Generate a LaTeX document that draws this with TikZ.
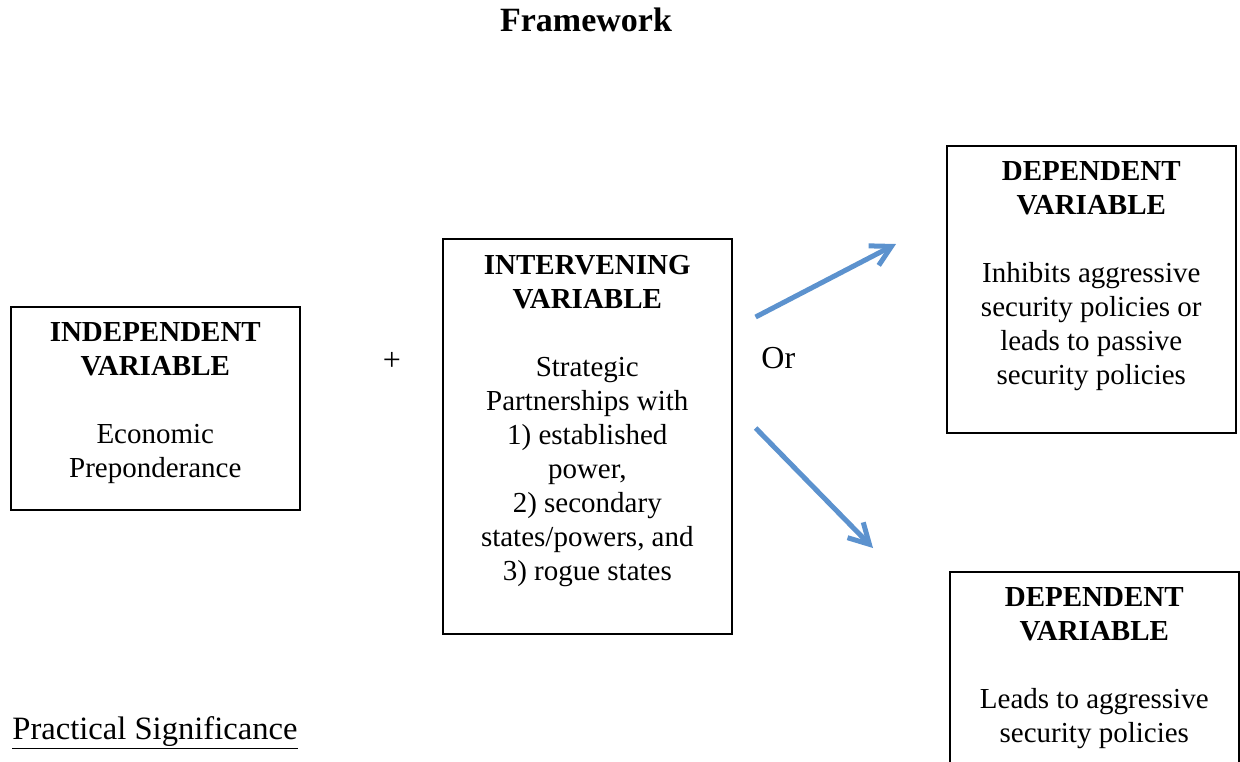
\documentclass[tikz,border=0pt]{standalone}
\usepackage{fontspec}
\setmainfont{Liberation Serif}
\usepackage{tikz}
\usetikzlibrary{arrows.meta}
\definecolor{arrowblue}{RGB}{92,146,206}
\tikzset{
  varbox/.style={rectangle, draw=black, line width=0.8pt, anchor=north west,
    inner xsep=0pt, inner ysep=8pt, minimum width=144.5pt,
    font=\fontsize{14.5}{17}\selectfont},
  plaintext/.style={inner sep=0pt, font=\fontsize{16}{19}\selectfont},
  flow/.style={-{Straight Barb[length=10pt, width=11pt]}, line width=2.5pt, arrowblue}
}
\newcommand{\boxbody}[2]{\parbox[c][#1][t]{144.5pt}{\centering #2}}

\begin{document}
\begin{tikzpicture}[x=0.5pt, y=-0.5pt]
  \useasboundingbox (0,0) rectangle (1240,761);
  \clip (0,0) rectangle (1240,761);

  \node[plaintext, anchor=base, font=\fontsize{17}{20}\selectfont\bfseries] (title) at (586,31) {Framework};

  \node[varbox] (indep) at (10,306) {\boxbody{85.5pt}{\textbf{INDEPENDENT}\\ \textbf{VARIABLE}\\[17pt] Economic\\ Preponderance}};
  \node[varbox] (inter) at (442,238) {\boxbody{181.5pt}{\textbf{INTERVENING}\\ \textbf{VARIABLE}\\[17pt] Strategic\\ Partnerships with\\ 1) established\\ power,\\ 2) secondary\\ states/powers, and\\ 3) rogue states}};
  \node[varbox] (deptop) at (946,145) {\boxbody{127.5pt}{\textbf{DEPENDENT}\\ \textbf{VARIABLE}\\[17pt] Inhibits aggressive\\ security policies or\\ leads to passive\\ security policies}};
  \node[varbox] (depbot) at (949,571) {\boxbody{99pt}{\textbf{DEPENDENT}\\ \textbf{VARIABLE}\\[17pt] Leads to aggressive\\ security policies}};

  \node[plaintext, font=\fontsize{16}{19}\selectfont] (plus) at (392,361) {+};
  \node[plaintext, anchor=base west] (or) at (761,368) {Or};

  \draw[flow] ([shift={(23,79)}]inter.north east) -- ([shift={(-50,99)}]deptop.north west);
  \draw[flow] ([shift={(23,190)}]inter.north east) -- ([shift={(-76,-23)}]depbot.north west);

  \node[plaintext, anchor=base west, font=\fontsize{16.3}{19}\selectfont] (practical) at (12,739) {\underline{Practical Significance}};
\end{tikzpicture}
\end{document}
